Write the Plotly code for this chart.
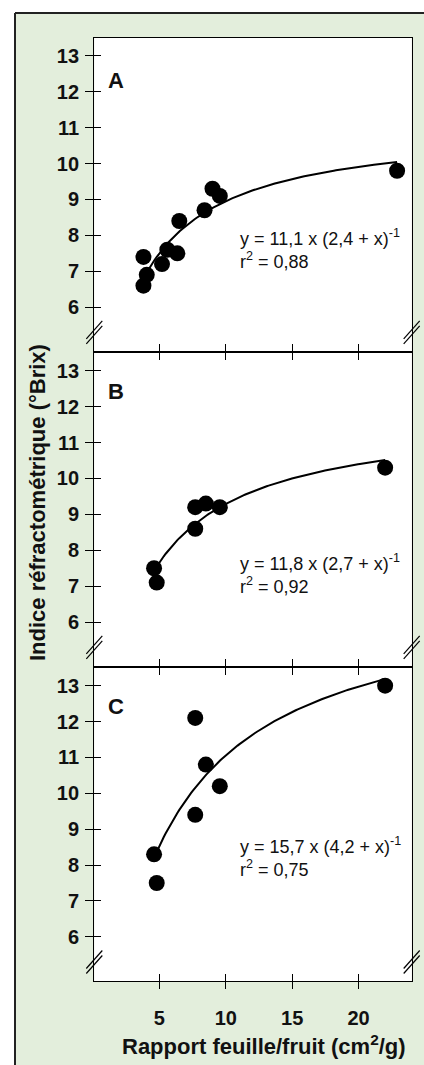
import numpy as np
import plotly.graph_objects as go

W, H = 424, 1065

# ---------------- data ----------------
panels = ["A", "B", "C"]

a_x = [3.8, 4.05, 3.8, 5.2, 5.6, 6.35, 6.5, 8.4, 9.0, 9.55, 22.9]
a_y = [7.4, 6.9, 6.6, 7.2, 7.6, 7.5, 8.4, 8.7, 9.3, 9.1, 9.8]

b_x = [4.6, 4.8, 7.7, 7.7, 8.5, 9.55, 22.0]
b_y = [7.5, 7.1, 8.6, 9.2, 9.3, 9.2, 10.3]

c_x = [4.6, 4.8, 7.7, 7.7, 8.5, 9.55, 22.0]
c_y = [8.3, 7.5, 12.1, 9.4, 10.8, 10.2, 13.0]

# fitted model y = a * x * (b + x)^-1 (parameters as printed on the chart)
fit_a = [11.1, 11.8, 15.7]
fit_b = [2.4, 2.7, 4.2]
fit_r2 = ["0,88", "0,92", "0,75"]
fit_a_txt = ["11,1", "11,8", "15,7"]
fit_b_txt = ["2,4", "2,7", "4,2"]
fit_x_start = [4.0, 4.6, 4.6]
fit_x_end = [22.9, 22.0, 22.0]

x_ticks = [5, 10, 15, 20]
y_ticks = [6, 7, 8, 9, 10, 11, 12, 13]

xs = [a_x, b_x, c_x]
ys = [a_y, b_y, c_y]

# ---------------- layout geometry (pixels) ----------------
LW = 1.4
plot_left, plot_right = 94.3, 411.7
panel_tops = [38, 352 + LW / 2, 667 + LW / 2]
panel_bots = [352 - LW / 2, 667 - LW / 2, 981]
x_range = [0.1, 24.0]
y_range = [4.77, 13.5]

FONT = "Liberation Sans, Arial, Helvetica, sans-serif"
INK = "#111111"
GREEN = "#E3EEDC"

def px(X):
    return X / W

def py(Y):
    return 1 - Y / H

fig = go.Figure()

for i in range(3):
    xa = "x" if i == 0 else f"x{i+1}"
    ya = "y" if i == 0 else f"y{i+1}"
    fig.add_trace(go.Scatter(
        x=xs[i], y=ys[i], mode="markers", xaxis=xa, yaxis=ya,
        marker=dict(size=16, color="black"), showlegend=False, hoverinfo="skip"))
    cx = np.linspace(fit_x_start[i], fit_x_end[i], 120)
    cy = fit_a[i] * cx / (fit_b[i] + cx)
    fig.add_trace(go.Scatter(
        x=cx, y=cy, mode="lines", xaxis=xa, yaxis=ya,
        line=dict(color="black", width=2), showlegend=False, hoverinfo="skip"))
    fig.add_trace(go.Scatter(x=[5], y=[13], mode="markers", opacity=0,
                             xaxis=f"x{i+4}", yaxis=ya, showlegend=False, hoverinfo="skip"))
    fig.add_trace(go.Scatter(x=[5], y=[13], mode="markers", opacity=0,
                             xaxis=xa, yaxis=f"y{i+4}", showlegend=False, hoverinfo="skip"))

layout = dict(
    width=W, height=H,
    margin=dict(l=0, r=0, t=0, b=0),
    paper_bgcolor=GREEN,
    plot_bgcolor="white",
    font=dict(family=FONT, color=INK),
    showlegend=False,
)

tickfont = dict(family=FONT, size=20, color=INK, weight="bold")

for i in range(3):
    ydom = [py(panel_bots[i]), py(panel_tops[i])]
    xdom = [px(plot_left), px(plot_right)]
    xname = "xaxis" if i == 0 else f"xaxis{i+1}"
    yname = "yaxis" if i == 0 else f"yaxis{i+1}"
    xref = "x" if i == 0 else f"x{i+1}"
    yref = "y" if i == 0 else f"y{i+1}"
    layout[xname] = dict(
        domain=xdom, range=x_range, anchor=yref,
        tickvals=x_ticks, ticks="outside", ticklen=7, tickwidth=1.2, tickcolor="black",
        showticklabels=(i == 2), tickfont=tickfont, ticklabelstandoff=12,
        showline=True, mirror=True, linecolor="black", linewidth=LW,
        showgrid=False, zeroline=False, fixedrange=True)
    layout[yname] = dict(
        domain=ydom, range=y_range, anchor=xref,
        tickvals=y_ticks, ticks="outside", ticklen=8, tickwidth=1.2, tickcolor="black",
        tickfont=tickfont, ticklabelstandoff=2,
        showline=True, mirror=True, linecolor="black", linewidth=LW,
        showgrid=False, zeroline=False, fixedrange=True)
    layout[f"xaxis{i+4}"] = dict(
        overlaying=xref, anchor=yref, range=x_range, side="bottom",
        tickvals=x_ticks, ticks="inside", ticklen=7, tickwidth=1.2, tickcolor="black",
        showticklabels=False, showline=False, showgrid=False, zeroline=False, fixedrange=True)
    layout[f"yaxis{i+4}"] = dict(
        overlaying=yref, anchor=xref, range=y_range, side="left",
        tickvals=y_ticks, ticks="inside", ticklen=7, tickwidth=1.2, tickcolor="black",
        showticklabels=False, showline=False, showgrid=False, zeroline=False, fixedrange=True)

fig.update_layout(**layout)

# white surround outside the green frame, and the frame lines (top & left)
shapes = [
    dict(type="rect", xref="paper", yref="paper", x0=-0.05, x1=1.05, y0=py(13), y1=1.05,
         fillcolor="white", line=dict(width=0), layer="below"),
    dict(type="rect", xref="paper", yref="paper", x0=-0.05, x1=px(15), y0=-0.05, y1=1.05,
         fillcolor="white", line=dict(width=0), layer="below"),
    dict(type="line", xref="paper", yref="paper", x0=px(15), x1=1.05, y0=py(13), y1=py(13),
         line=dict(color="#222222", width=2), layer="below"),
    dict(type="line", xref="paper", yref="paper", x0=px(15), x1=px(15), y0=-0.05, y1=py(13),
         line=dict(color="#222222", width=2), layer="below"),
]

# axis break marks (double slashes) near the bottom of each panel, both sides
for i in range(3):
    cyb = panel_bots[i] - 19
    for cxb in (plot_left, plot_right):
        for off in (-2.5, 2.5):
            shapes.append(dict(type="line", xref="paper", yref="paper",
                               x0=px(cxb - 8), y0=py(cyb + 9 + off),
                               x1=px(cxb + 8), y1=py(cyb - 9 + off),
                               line=dict(color="black", width=1.2), layer="above"))
fig.update_layout(shapes=shapes)

annotations = []
letter_y = [12.31, 12.42, 12.41]
eq_y = [7.61, 7.35, 8.23]
for i in range(3):
    xref = "x" if i == 0 else f"x{i+1}"
    yref = "y" if i == 0 else f"y{i+1}"
    annotations.append(dict(
        x=1.7, y=letter_y[i], xref=xref, yref=yref, text=panels[i], showarrow=False,
        xanchor="center", yanchor="middle",
        font=dict(family=FONT, size=22, color=INK, weight="bold")))
    annotations.append(dict(
        x=10.94, y=eq_y[i], xref=xref, yref=yref,
        text=f"y = {fit_a_txt[i]} x ({fit_b_txt[i]} + x)<sup>-1</sup><br>r<sup>2</sup> = {fit_r2[i]}",
        showarrow=False, xanchor="left", yanchor="middle", align="left",
        font=dict(family=FONT, size=18, color=INK)))

annotations.append(dict(
    x=px(37.5), y=py(502.5), xref="paper", yref="paper",
    text="Indice réfractométrique (°Brix)", textangle=-90, showarrow=False,
    xanchor="center", yanchor="middle",
    font=dict(family=FONT, size=22, color=INK, weight="bold")))
annotations.append(dict(
    x=px(264), y=py(1045), xref="paper", yref="paper",
    text="Rapport feuille/fruit (cm<sup>2</sup>/g)", showarrow=False,
    xanchor="center", yanchor="middle",
    font=dict(family=FONT, size=22, color=INK, weight="bold")))
fig.update_layout(annotations=annotations)

fig.write_html(
    "out.html",
    config={"displayModeBar": False},
    post_script="document.body.style.margin='0';document.body.style.overflow='hidden';",
)
